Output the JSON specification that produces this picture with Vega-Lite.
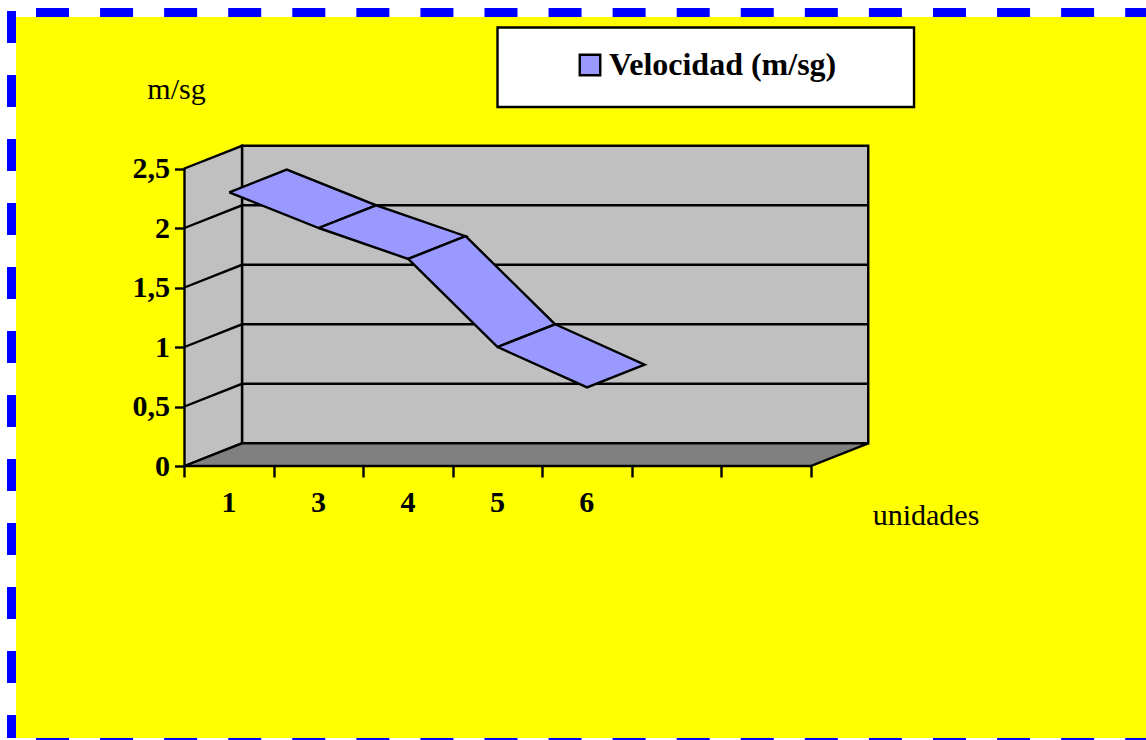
{
"$schema":"https://vega.github.io/schema/vega-lite/v6.json",
"autosize":{"type":"none"},"padding":0,"width":1146,"height":740,"background":"white",
"config":{"view":{"stroke":null},"font":"Liberation Serif"},
"resolve":{"axis":{"x":"independent","y":"independent"}},
"layer":[
{"data":{"values":[{}]},"mark":{"type":"rect","fill":"#FFFF00","stroke":null},
 "encoding":{
  "x":{"datum":-1.8835,"type":"quantitative","scale":{"domain":[-2.0624,10.748],"nice":false,"zero":false},
   "axis":{"values":[0,1,2,3,4,5,6,7],"labelExpr":"datum.value<5?['1','3','4','5','6'][datum.value]:''","labelOffset":44,"domain":false,"grid":false,"offset":-274,"zindex":1,
    "tickSize":11,"tickWidth":2.4,"tickColor":"#000","labelPadding":34,"labelBaseline":"alphabetic","labelFont":"Liberation Serif","labelFontSize":30,"labelFontWeight":"bold","labelColor":"#000","labelOverlap":false,"labelBound":false,"labelFlush":false,
    "title":"unidades","titleX":925.5,"titleY":58,"titleAlign":"center","titleBaseline":"alphabetic","titleFont":"Liberation Serif","titleFontSize":30,"titleFontWeight":"normal","titleColor":"#000"}},
  "x2":{"datum":10.748},
  "y":{"datum":3.773,"type":"quantitative","scale":{"domain":[-2.3025,3.916],"nice":false,"zero":false},
   "axis":{"values":[0,0.5,1,1.5,2,2.5],"labelExpr":"replace(format(datum.value,'~g'),'.',',')","domain":false,"grid":false,"offset":-184.5,"zindex":1,
    "tickSize":10,"tickWidth":2.4,"tickColor":"#000","labelPadding":5,"labelFont":"Liberation Serif","labelFontSize":30,"labelFontWeight":"bold","labelColor":"#000","labelOverlap":false,"labelBound":false,
    "title":"m/sg","titleAngle":0,"titleX":-8.5,"titleY":98,"titleAlign":"center","titleBaseline":"alphabetic","titleFont":"Liberation Serif","titleFontSize":30,"titleFontWeight":"normal","titleColor":"#000"}},
  "y2":{"datum":-2.286}}},
{"data":{"values":[{}]},"mark":{"type":"rule","stroke":"#0000FF","strokeWidth":9,"strokeDash":[33,31.07]},
 "encoding":{"x":{"datum":-1.66,"type":"quantitative","scale":{"domain":[-2.0624,10.748],"nice":false,"zero":false},"axis":null},"x2":{"datum":10.748},
  "y":{"datum":3.811,"type":"quantitative","scale":{"domain":[-2.3025,3.916],"nice":false,"zero":false},"axis":null}}},
{"data":{"values":[{}]},"mark":{"type":"rule","stroke":"#0000FF","strokeWidth":2,"strokeDash":[33,31.07]},
 "encoding":{"x":{"datum":-1.66,"type":"quantitative","scale":{"domain":[-2.0624,10.748],"nice":false,"zero":false},"axis":null},"x2":{"datum":10.748},
  "y":{"datum":-2.294,"type":"quantitative","scale":{"domain":[-2.3025,3.916],"nice":false,"zero":false},"axis":null}}},
{"data":{"values":[{}]},"mark":{"type":"rule","stroke":"#0000FF","strokeWidth":9,"strokeDash":[32,32]},
 "encoding":{"x":{"datum":-1.934,"type":"quantitative","scale":{"domain":[-2.0624,10.748],"nice":false,"zero":false},"axis":null},
  "y":{"datum":3.824,"type":"quantitative","scale":{"domain":[-2.3025,3.916],"nice":false,"zero":false},"axis":null},"y2":{"datum":-2.286}}},
{"data":{"values":[{}]},"mark":{"type":"rect","fill":"#FFFFFF","stroke":"#000000","strokeWidth":2.4},
 "encoding":{"x":{"datum":3.499,"type":"quantitative","scale":{"domain":[-2.0624,10.748],"nice":false,"zero":false},"axis":null},"x2":{"datum":8.155},
  "y":{"datum":3.685,"type":"quantitative","scale":{"domain":[-2.3025,3.916],"nice":false,"zero":false},"axis":null},"y2":{"datum":3.017}}},
{"data":{"values":[
 {"shape":"back","ord":0,"cat":0,"value":0,"depth":1},{"shape":"back","ord":1,"cat":7,"value":0,"depth":1},{"shape":"back","ord":2,"cat":7,"value":2.5,"depth":1},{"shape":"back","ord":3,"cat":0,"value":2.5,"depth":1},{"shape":"back","ord":4,"cat":0,"value":0,"depth":1},
 {"shape":"side","ord":0,"cat":0,"value":0,"depth":0},{"shape":"side","ord":1,"cat":0,"value":2.5,"depth":0},{"shape":"side","ord":2,"cat":0,"value":2.5,"depth":1},{"shape":"side","ord":3,"cat":0,"value":0,"depth":1},{"shape":"side","ord":4,"cat":0,"value":0,"depth":0}
 ]},
 "transform":[{"calculate":"datum.cat+0.643*datum.depth","as":"xp"},{"calculate":"datum.value+0.191*datum.depth","as":"yp"}],
 "mark":{"type":"line","fill":"#C0C0C0","stroke":"#000000","strokeWidth":2.4},
 "encoding":{"x":{"field":"xp","type":"quantitative","scale":{"domain":[-2.0624,10.748],"nice":false,"zero":false},"axis":null},
  "y":{"field":"yp","type":"quantitative","scale":{"domain":[-2.3025,3.916],"nice":false,"zero":false},"axis":null},"detail":{"field":"shape"},"order":{"field":"ord"}}},
{"data":{"values":[
 {"shape":"floor","ord":0,"cat":0,"value":0,"depth":0},{"shape":"floor","ord":1,"cat":7,"value":0,"depth":0},{"shape":"floor","ord":2,"cat":7,"value":0,"depth":1},{"shape":"floor","ord":3,"cat":0,"value":0,"depth":1},{"shape":"floor","ord":4,"cat":0,"value":0,"depth":0}
 ]},
 "transform":[{"calculate":"datum.cat+0.643*datum.depth","as":"xp"},{"calculate":"datum.value+0.191*datum.depth","as":"yp"}],
 "mark":{"type":"line","fill":"#808080","stroke":"#000000","strokeWidth":2.4},
 "encoding":{"x":{"field":"xp","type":"quantitative","scale":{"domain":[-2.0624,10.748],"nice":false,"zero":false},"axis":null},
  "y":{"field":"yp","type":"quantitative","scale":{"domain":[-2.3025,3.916],"nice":false,"zero":false},"axis":null},"detail":{"field":"shape"},"order":{"field":"ord"}}},
{"data":{"values":[
 {"shape":"g05","ord":0,"cat":0,"value":0.5,"depth":0},{"shape":"g05","ord":1,"cat":0,"value":0.5,"depth":1},{"shape":"g05","ord":2,"cat":7,"value":0.5,"depth":1},
 {"shape":"g10","ord":0,"cat":0,"value":1,"depth":0},{"shape":"g10","ord":1,"cat":0,"value":1,"depth":1},{"shape":"g10","ord":2,"cat":7,"value":1,"depth":1},
 {"shape":"g15","ord":0,"cat":0,"value":1.5,"depth":0},{"shape":"g15","ord":1,"cat":0,"value":1.5,"depth":1},{"shape":"g15","ord":2,"cat":7,"value":1.5,"depth":1},
 {"shape":"g20","ord":0,"cat":0,"value":2,"depth":0},{"shape":"g20","ord":1,"cat":0,"value":2,"depth":1},{"shape":"g20","ord":2,"cat":7,"value":2,"depth":1}
 ]},
 "transform":[{"calculate":"datum.cat+0.643*datum.depth","as":"xp"},{"calculate":"datum.value+0.191*datum.depth","as":"yp"}],
 "mark":{"type":"line","stroke":"#000000","strokeWidth":2.4},
 "encoding":{"x":{"field":"xp","type":"quantitative","scale":{"domain":[-2.0624,10.748],"nice":false,"zero":false},"axis":null},
  "y":{"field":"yp","type":"quantitative","scale":{"domain":[-2.3025,3.916],"nice":false,"zero":false},"axis":null},"detail":{"field":"shape"},"order":{"field":"ord"}}},
{"data":{"values":[
 {"series":"Velocidad (m/sg)","shape":"s1","ord":0,"cat":0.5,"value":2.3,"depth":0},{"series":"Velocidad (m/sg)","shape":"s1","ord":1,"cat":1.5,"value":2,"depth":0},{"series":"Velocidad (m/sg)","shape":"s1","ord":2,"cat":1.5,"value":2,"depth":1},{"series":"Velocidad (m/sg)","shape":"s1","ord":3,"cat":0.5,"value":2.3,"depth":1},{"series":"Velocidad (m/sg)","shape":"s1","ord":4,"cat":0.5,"value":2.3,"depth":0},
 {"series":"Velocidad (m/sg)","shape":"s2","ord":0,"cat":1.5,"value":2,"depth":0},{"series":"Velocidad (m/sg)","shape":"s2","ord":1,"cat":2.5,"value":1.74,"depth":0},{"series":"Velocidad (m/sg)","shape":"s2","ord":2,"cat":2.5,"value":1.74,"depth":1},{"series":"Velocidad (m/sg)","shape":"s2","ord":3,"cat":1.5,"value":2,"depth":1},{"series":"Velocidad (m/sg)","shape":"s2","ord":4,"cat":1.5,"value":2,"depth":0},
 {"series":"Velocidad (m/sg)","shape":"s3","ord":0,"cat":2.5,"value":1.74,"depth":0},{"series":"Velocidad (m/sg)","shape":"s3","ord":1,"cat":3.5,"value":1,"depth":0},{"series":"Velocidad (m/sg)","shape":"s3","ord":2,"cat":3.5,"value":1,"depth":1},{"series":"Velocidad (m/sg)","shape":"s3","ord":3,"cat":2.5,"value":1.74,"depth":1},{"series":"Velocidad (m/sg)","shape":"s3","ord":4,"cat":2.5,"value":1.74,"depth":0},
 {"series":"Velocidad (m/sg)","shape":"s4","ord":0,"cat":3.5,"value":1,"depth":0},{"series":"Velocidad (m/sg)","shape":"s4","ord":1,"cat":4.5,"value":0.66,"depth":0},{"series":"Velocidad (m/sg)","shape":"s4","ord":2,"cat":4.5,"value":0.66,"depth":1},{"series":"Velocidad (m/sg)","shape":"s4","ord":3,"cat":3.5,"value":1,"depth":1},{"series":"Velocidad (m/sg)","shape":"s4","ord":4,"cat":3.5,"value":1,"depth":0}
 ]},
 "transform":[{"calculate":"datum.cat+0.643*datum.depth","as":"xp"},{"calculate":"datum.value+0.191*datum.depth","as":"yp"}],
 "mark":{"type":"line","filled":true,"stroke":"#000000","strokeWidth":2.4},
 "encoding":{"x":{"field":"xp","type":"quantitative","scale":{"domain":[-2.0624,10.748],"nice":false,"zero":false},"axis":null},
  "y":{"field":"yp","type":"quantitative","scale":{"domain":[-2.3025,3.916],"nice":false,"zero":false},"axis":null},"detail":{"field":"shape"},"order":{"field":"ord"},
  "color":{"field":"series","type":"nominal","scale":{"range":["#9999FF"]},
   "legend":{"title":null,"orient":"none","legendX":574,"legendY":49,"symbolType":"square","symbolSize":420,"symbolStrokeColor":"#000000","symbolStrokeWidth":2.4,"labelFont":"Liberation Serif","labelFontSize":32,"labelFontWeight":"bold","labelColor":"#000000","labelLimit":400,"labelOffset":3,"padding":0}}}}
]}
